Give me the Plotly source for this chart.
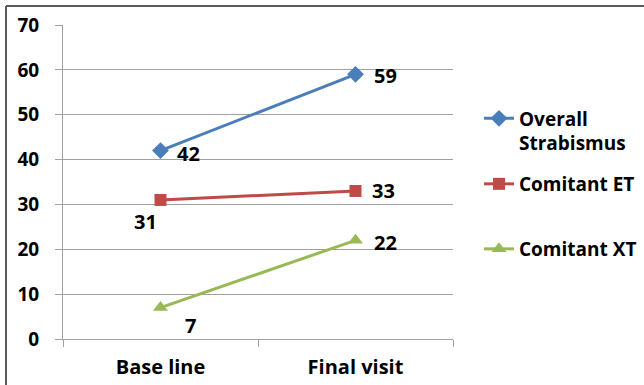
import plotly.graph_objects as go

# Visits on the x axis and percentage values for each group
visits = ["Base line", "Final visit"]
overall = [42, 59]
comitant_et = [31, 33]
comitant_xt = [7, 22]
y_ticks = [0, 10, 20, 30, 40, 50, 60, 70]

FONT = "Open Sans"
W, H = 644, 385
L, R, T, B = 63, 0, 25, 46
PLOT_RIGHT = 453
PW, PH = W - L - R, H - T - B


def px_x(p):
    return (p - L) / PW


def px_y(p):
    return (H - B - p) / PH


fig = go.Figure()

series = [
    ("Overall<br>Strabismus", overall, "#4A7EBB", "diamond", 13, "legend"),
    ("Comitant ET", comitant_et, "#BE4B48", "square", 12, "legend2"),
    ("Comitant XT", comitant_xt, "#98B954", "triangle-up", 13, "legend3"),
]
for name, vals, col, sym, size, lg in series:
    fig.add_trace(go.Scatter(
        x=visits, y=vals, name=name, mode="lines+markers",
        line=dict(color=col, width=3),
        marker=dict(symbol=sym, size=size, color=col),
        legend=lg,
    ))

# Value labels next to each marker (offsets in pixels)
label_offsets = [
    (overall, [(28, -3), (30, -1)]),
    (comitant_et, [(-15, -22), (28, 0)]),
    (comitant_xt, [(30, -18), (30, -2)]),
]
for vals, offs in label_offsets:
    for xv, yv, (dx, dy) in zip(visits, vals, offs):
        fig.add_annotation(
            x=xv, y=yv, text=str(yv), showarrow=False,
            xshift=dx, yshift=dy,
            font=dict(family=FONT, size=20, color="#000000", weight="bold"),
        )

legend_common = dict(
    bgcolor="rgba(0,0,0,0)", borderwidth=0,
    font=dict(family=FONT, size=19, color="#000000", weight="bold"),
    xanchor="left", yanchor="middle", valign="top",
    itemwidth=30,
)
LEG_X = 479
fig.update_layout(
    width=W, height=H,
    margin=dict(l=L, r=R, t=T, b=B, pad=0, autoexpand=False),
    paper_bgcolor="white", plot_bgcolor="white",
    showlegend=True,
    legend=dict(x=px_x(LEG_X), y=px_y(131), **legend_common),
    legend2=dict(x=px_x(LEG_X), y=px_y(184), **legend_common),
    legend3=dict(x=px_x(LEG_X), y=px_y(249), **legend_common),
    xaxis=dict(
        type="category", range=[-0.5, 1.5],
        domain=[0, px_x(PLOT_RIGHT)],
        showline=True, linecolor="#A0A0A0", linewidth=1,
        ticks="outside", tickson="boundaries", ticklen=7, tickcolor="#A0A0A0",
        showgrid=False, zeroline=False,
        tickfont=dict(family=FONT, size=20, color="#000000", weight="bold"),
        ticklabelstandoff=10,
    ),
    yaxis=dict(
        range=[0, 70], tickvals=y_ticks,
        showline=True, linecolor="#A0A0A0", linewidth=1,
        ticks="outside", ticklen=7, tickcolor="#A0A0A0",
        showgrid=True, gridcolor="#A0A0A0", gridwidth=1,
        zeroline=False,
        tickfont=dict(family=FONT, size=19, color="#000000", weight="bold"),
        ticklabelstandoff=12,
    ),
    shapes=[
        dict(type="line", xref="paper", yref="paper",
             x0=px_x(6), x1=px_x(W + 2), y0=px_y(6), y1=px_y(6),
             line=dict(color="#5A5A5A", width=2)),
        dict(type="line", xref="paper", yref="paper",
             x0=px_x(6), x1=px_x(6), y0=px_y(6), y1=px_y(H + 2),
             line=dict(color="#5A5A5A", width=2)),
    ],
)

fig.write_html("out.html")
